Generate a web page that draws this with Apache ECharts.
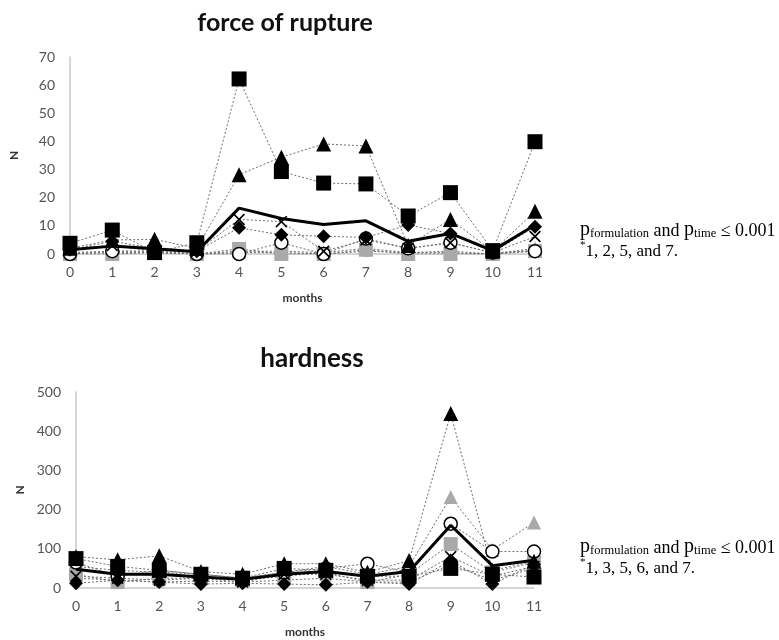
<!DOCTYPE html>
<html>
<head>
<meta charset="utf-8">
<script src="https://cdn.jsdelivr.net/npm/echarts@6/dist/echarts.min.js"></script>
<style>
html,body{margin:0;padding:0;background:#fff;}
#c{width:779px;height:640px;}
</style>
</head>
<body>
<div id="c"></div>
<script>
// ---- data ----
const months = ['0','1','2','3','4','5','6','7','8','9','10','11'];

// force of rupture (N)
const fBlackSquare   = [3.8, 8.5, 0.5, 4.0, 62.2, 29.3, 25.2, 24.9, 13.5, 21.8, 1.2, 39.9];
const fBlackTriangle = [2.0, 5.0, 5.2, 2.0, 28.2, 34.4, 39.1, 38.4, 3.0, 12.3, 1.0, 15.2];
const fBlackDiamond  = [1.5, 4.5, 2.0, 1.0, 9.3, 6.8, 6.3, 5.9, 10.3, 7.3, 0.5, 9.7];
const fCross         = [2.0, 3.0, 1.0, 1.0, 12.3, 11.5, 1.0, 5.0, 2.0, 4.0, 0.5, 6.2];
const fOpenCircle    = [0.0, 1.0, 1.0, 0.0, 0.0, 4.0, 0.0, 5.5, 2.0, 4.0, 0.5, 1.0];
const fGraySquare    = [0.0, 0.0, 0.5, 0.0, 1.8, 0.0, 0.0, 1.5, 0.0, 0.0, 0.0, 1.0];
const fGrayTriangle  = [0.5, 1.0, 1.0, 0.0, 1.0, 1.0, 0.5, 2.0, 0.5, 1.0, 0.0, 2.0];
const fGrayCircle    = [0.2, 0.5, 0.5, 0.0, 0.5, 0.5, 0.0, 1.0, 0.5, 0.5, 0.0, 1.4];
const fMean          = [1.5, 2.8, 1.9, 0.8, 16.3, 12.6, 10.5, 11.8, 4.5, 7.3, 1.2, 10.3];

// hardness (N)
const hBlackTriangle = [80, 72, 82, 42, 35, 62, 62, 40, 70, 445, 45, 68];
const hGrayTriangle  = [55, 45, 40, 35, 25, 40, 55, 35, 55, 232, 97, 167];
const hOpenCircle    = [65, 30, 45, 35, 25, 40, 50, 62, 40, 164, 93, 93];
const hGraySquare    = [35, 15, 25, 25, 20, 30, 40, 15, 35, 112, 40, 65];
const hBlackSquare   = [75, 55, 45, 35, 25, 50, 45, 30, 30, 50, 35, 28];
const hCross         = [30, 25, 20, 25, 15, 35, 35, 20, 20, 80, 30, 55];
const hBlackDiamond  = [12, 20, 15, 10, 12, 10, 8, 15, 10, 70, 10, 60];
const hGrayCircle    = [25, 20, 15, 18, 15, 20, 25, 15, 15, 60, 20, 50];
const hMean          = [48, 35, 35, 28, 22, 35, 42, 30, 42, 160, 57, 71];

const fTicks = {min: 0, max: 70, interval: 10};
const hTicks = {min: 0, max: 500, interval: 100};

// ---- styles ----
const BLACK = '#000000';
const GRAY = '#a9a9a9';
const LINE = '#6e6e6e';
const crossPath = 'path://M0,1L1,0L5,4L9,0L10,1L6,5L10,9L9,10L5,6L1,10L0,9L4,5Z';

function s(name, data, idx, symbol, size, color, opts) {
  opts = opts || {};
  return {
    name: name, type: 'line', data: data,
    xAxisIndex: idx, yAxisIndex: idx,
    symbol: symbol, symbolSize: size,
    showSymbol: true,
    lineStyle: {color: LINE, width: 1, type: [2, 2]},
    itemStyle: Object.assign({color: color}, opts.item || {}),
    z: opts.z || 3,
    animation: false,
    silent: true
  };
}
function meanSeries(data, idx) {
  return {
    type: 'line', data: data, xAxisIndex: idx, yAxisIndex: idx,
    symbol: 'none', lineStyle: {color: BLACK, width: 3}, z: 10,
    animation: false, silent: true
  };
}
function build(idx, d) {
  return [
    s('gray circle', d.gc, idx, 'circle', 12, GRAY),
    s('gray triangle', d.gt, idx, 'triangle', 14, GRAY),
    s('gray square', d.gs, idx, 'rect', 14, GRAY),
    s('open circle', d.oc, idx, 'circle', 13, '#ffffff', {item: {borderColor: BLACK, borderWidth: 1.5}}),
    s('cross', d.x, idx, crossPath, 12, BLACK),
    s('black diamond', d.bd, idx, 'diamond', 14, BLACK),
    s('black triangle', d.bt, idx, 'triangle', 15, BLACK),
    s('black square', d.bs, idx, 'rect', 15, BLACK),
    meanSeries(d.m, idx)
  ];
}

const axisLabel = {color: '#555555', fontSize: 14, fontFamily: 'Lato'};
const nameStyle = {color: '#333333', fontSize: 12, fontWeight: 'bold', fontFamily: 'Lato'};

function xAx(idx) {
  return {
    type: 'category', gridIndex: idx, data: months, boundaryGap: false,
    axisLine: {lineStyle: {color: '#c8c8c8', width: 1.5}},
    axisTick: {show: false},
    axisLabel: Object.assign({margin: 11}, axisLabel),
    name: 'months', nameLocation: 'middle', nameGap: 38, nameTextStyle: nameStyle
  };
}
function yAx(idx, t) {
  return {
    type: 'value', gridIndex: idx, min: t.min, max: t.max, interval: t.interval,
    axisLine: {show: true, lineStyle: {color: '#c8c8c8', width: 1.5}},
    axisTick: {show: false},
    splitLine: {show: false},
    axisLabel: Object.assign({margin: 15}, axisLabel),
    name: 'N', nameLocation: 'middle', nameGap: 50, nameRotate: 90, nameTextStyle: nameStyle
  };
}

const chart = echarts.init(document.getElementById('c'), null, {renderer: 'canvas'});
function mkNote(x, y, list) {
  const big = {fontFamily: 'Liberation Serif', fontSize: 20, color: '#222', verticalAlign: 'bottom', lineHeight: 21};
  const mid = {fontFamily: 'Liberation Serif', fontSize: 18, color: '#222', verticalAlign: 'bottom', lineHeight: 21};
  const mid2 = {fontFamily: 'Liberation Serif', fontSize: 17, color: '#222', verticalAlign: 'bottom', lineHeight: 20};
  const sub = {fontFamily: 'Liberation Serif', fontSize: 12.5, color: '#222', verticalAlign: 'bottom', lineHeight: 18};
  const sup = {fontFamily: 'Liberation Serif', fontSize: 11, color: '#222', verticalAlign: 'top', lineHeight: 20};
  return {
    type: 'text', left: x, top: y, silent: true,
    style: {
      text: '{p|p}{s|formulation}{m| and }{p|p}{s|time}{m| \u2264 0.001}\n{u|*}{n|' + list + '}',
      rich: {p: big, m: mid, n: mid2, s: sub, u: sup}
    }
  };
}
const option = {
  backgroundColor: '#ffffff',
  animation: false,
  title: [
    {text: 'force of rupture', left: 280, top: 5, textAlign: 'center',
     textStyle: {fontFamily: 'Lato', fontWeight: 'bold', fontSize: 25, color: '#111'}},
    {text: 'hardness', left: 307, top: 341, textAlign: 'center',
     textStyle: {fontFamily: 'Lato', fontWeight: 'bold', fontSize: 26, color: '#111'}}
  ],
  grid: [
    {left: 67, right: 244, top: 57, bottom: 386},
    {left: 76, right: 245, top: 392, bottom: 52}
  ],
  xAxis: [xAx(0), xAx(1)],
  yAxis: [yAx(0, fTicks), yAx(1, hTicks)],
  series: [].concat(
    build(0, {gc: fGrayCircle, gt: fGrayTriangle, gs: fGraySquare, oc: fOpenCircle, x: fCross,
              bd: fBlackDiamond, bt: fBlackTriangle, bs: fBlackSquare, m: fMean}),
    build(1, {gc: hGrayCircle, gt: hGrayTriangle, gs: hGraySquare, oc: hOpenCircle, x: hCross,
              bd: hBlackDiamond, bt: hBlackTriangle, bs: hBlackSquare, m: hMean})
  ),
  graphic: [
    mkNote(580, 220, '1, 2, 5, and 7.'),
    mkNote(580, 537, '1, 3, 5, 6, and 7.')
  ]
};
chart.setOption(option);
</script>
</body>
</html>
